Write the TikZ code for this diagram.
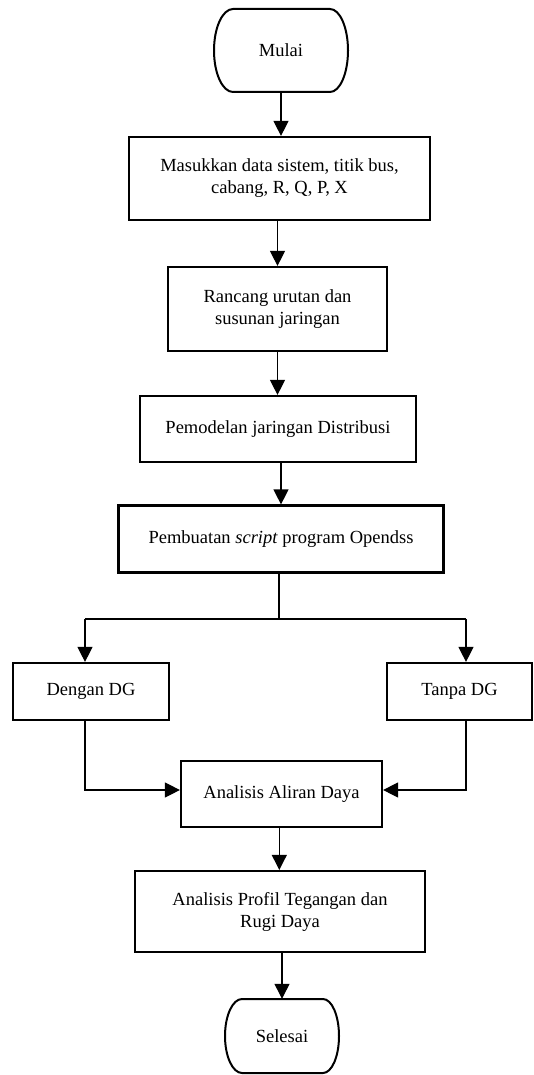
\documentclass[tikz,border=0pt]{standalone}
\usepackage{fontspec}
\setmainfont{Liberation Serif}
\usetikzlibrary{arrows.meta,calc}
\begin{document}
\begin{tikzpicture}[x=1pt,y=1pt,
  every node/.style={font=\fontsize{18.5}{22}\selectfont, align=center, inner sep=0pt},
  procbox/.style={draw, line width=2.2pt, rectangle},
  termtext/.style={draw=none},
  termline/.style={line width=2pt},
  conn/.style={line width=1.2pt},
  arr/.style={conn, -{Triangle[length=15pt,width=15pt]}}
]
\useasboundingbox (0,0) rectangle (534,-1075);

% terminal start
\node[termtext, minimum width=134pt, minimum height=83pt] (start) at (281,-50.5) {Mulai};
\draw[termline] ([shift={(-48,41.5)}]start.center) -- ([shift={(49,41.5)}]start.center)
  arc[start angle=90, end angle=-90, x radius=18, y radius=41.5]
  -- ([shift={(-48,-41.5)}]start.center)
  arc[start angle=270, end angle=90, x radius=19, y radius=41.5] -- cycle;

\node[procbox, minimum width=301pt, minimum height=83pt] (b1) at (279.5,-178.5)
  {Masukkan data sistem, titik bus,\\cabang, R, Q, P, X};
\node[procbox, minimum width=219pt, minimum height=84pt] (b2) at (277.5,-309)
  {Rancang urutan dan\\susunan jaringan};
\node[procbox, minimum width=276pt, minimum height=66pt] (b3) at (278,-429)
  {Pemodelan jaringan Distribusi};
\node[procbox, minimum width=325pt, minimum height=67pt] (b4) at (281,-539)
  {Pembuatan \textit{script} program Opendss};
\node[procbox, minimum width=156pt, minimum height=57pt] (dg) at (91,-691.5)
  {Dengan DG};
\node[procbox, minimum width=145pt, minimum height=57pt] (tg) at (459.5,-691.5)
  {Tanpa DG};
\node[procbox, minimum width=201pt, minimum height=66pt] (al) at (281.5,-794)
  {Analisis Aliran Daya};
\node[procbox, minimum width=290pt, minimum height=81pt] (pr) at (280,-911.5)
  {Analisis Profil Tegangan dan\\Rugi Daya};

% terminal end
\node[termtext, minimum width=114pt, minimum height=74pt] (end) at (282,-1036) {Selesai};
\draw[termline] ([shift={(-40,37)}]end.center) -- ([shift={(41,37)}]end.center)
  arc[start angle=90, end angle=-90, x radius=16, y radius=37]
  -- ([shift={(-40,-37)}]end.center)
  arc[start angle=270, end angle=90, x radius=17, y radius=37] -- cycle;

% connectors
\draw[arr] (start.south) -- (start.south |- b1.north);
\coordinate (x12) at (277.5,0);
\draw[arr] (b1.south -| x12) -- (b2.north -| x12);
\draw[arr] (b2.south) -- (b2.south |- b3.north);
\coordinate (x34) at (281,0);
\draw[arr] (b3.south -| x34) -- (b4.north -| x34);

\coordinate (split) at (279,-619);
\coordinate (bl) at (85,-619);
\coordinate (br) at (466,-619);
\draw[conn] (b4.south -| split) -- (split);
\draw[conn] (bl) -- (br);
\draw[arr] (bl) -- (bl |- dg.north);
\draw[arr] (br) -- (br |- tg.north);

\coordinate (jy) at (0,-790);
\draw[arr] (dg.south -| bl) |- (al.west |- jy);
\draw[arr] (tg.south -| br) |- (al.east |- jy);

\coordinate (x56) at (279.3,0);
\draw[arr] (al.south -| x56) -- (pr.north -| x56);
\draw[arr] (pr.south -| end.north) -- (end.north);
\end{tikzpicture}
\end{document}
